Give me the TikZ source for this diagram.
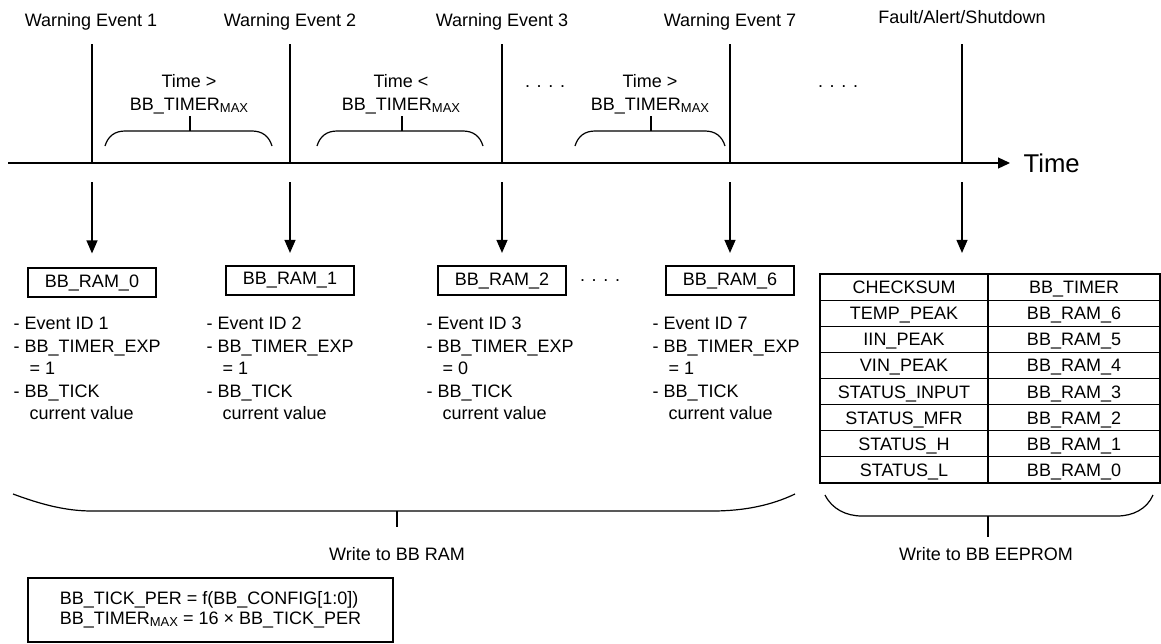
\documentclass[tikz,border=0pt]{standalone}
\usepackage{fontspec}
\setmainfont{Liberation Sans}
\usetikzlibrary{arrows.meta}
\newcommand\mx{\raisebox{-1.7pt}{\fontsize{13}{13}\selectfont MAX}}
\begin{document}
\begin{tikzpicture}[x=1pt,y=-1pt,line width=1.2pt,
  font=\fontsize{18}{22.5}\selectfont,
  lbl/.style={inner sep=0pt, anchor=base},
  tlbl/.style={inner sep=0pt, anchor=north, align=center, font=\fontsize{18}{22.7}\selectfont},
  ramb/.style={draw, minimum width=128pt, minimum height=29pt, inner sep=0pt},
  desc/.style={inner sep=0pt, anchor=north west, align=left, font=\fontsize{18}{22.5}\selectfont},
  arr/.style={-{Triangle[length=13pt,width=11pt]}},
  axarr/.style={-{Triangle[length=12pt,width=11pt]}},
  dotsl/.style={inner sep=0pt, anchor=base},
  cell/.style={inner sep=0pt, anchor=base}]
\useasboundingbox (0,0) rectangle (1161,643);

% event coordinates
\foreach \n/\x in {1/92,2/290,3/502,7/730,f/962}{
  \coordinate (t\n) at (\x,44);
  \coordinate (a\n) at (\x,163);
  \coordinate (b\n) at (\x,182);
}
\coordinate (axs) at (8,163);
\coordinate (axe) at (1010,163);

% top labels
\node[lbl] (w1) at (91,26.5) {Warning Event 1};
\node[lbl] (w2) at (290,26.5) {Warning Event 2};
\node[lbl] (w3) at (502,26.5) {Warning Event 3};
\node[lbl] (w7) at (730,26.5) {Warning Event 7};
\node[lbl] (wf) at (962,23) {Fault/Alert/Shutdown};

% time axis
\draw[axarr] (axs) -- (axe);
\node[inner sep=0pt, anchor=base west, font=\fontsize{25.7}{30}\selectfont] (timelbl) at (1023,172) {Time};

% event lines
\foreach \n in {1,2,3,7,f}{ \draw (t\n) -- (a\n); }

% braces top
\draw (105,146) .. controls (108,136) and (115,131) .. (125,131) -- (252,131) .. controls (262,131) and (269,136) .. (272,146);
\draw (190,131) -- (190,116);
\draw (317,146) .. controls (320,136) and (327,131) .. (337,131) -- (463,131) .. controls (473,131) and (480,136) .. (483,146);
\draw (402,131) -- (402,116);
\draw (575,146) .. controls (578,136) and (585,131) .. (595,131) -- (705,131) .. controls (715,131) and (722,136) .. (725,146);
\draw (651,131) -- (651,116);

\node[tlbl] (c1) at (189,74) {Time >\\BB\_TIMER\mx};
\node[tlbl] (c2) at (401,74) {Time <\\BB\_TIMER\mx};
\node[tlbl] (c3) at (650,74) {Time >\\BB\_TIMER\mx};

\node[dotsl] (d1) at (545,87) {. . . .};
\node[dotsl] (d2) at (838,87) {. . . .};

% RAM boxes
\node[ramb] (ram0) at (92,282.5) {BB\_RAM\_0};
\node[ramb] (ram1) at (290,280.5) {BB\_RAM\_1};
\node[ramb] (ram2) at (502,280.5) {BB\_RAM\_2};
\node[ramb] (ram6) at (730,280.5) {BB\_RAM\_6};
\node[dotsl] (d3) at (600,281) {. . . .};

\draw[arr, shorten >=14pt] (b1) -- (ram0.north);
\draw[arr, shorten >=12.5pt] (b2) -- (ram1.north);
\draw[arr, shorten >=12.5pt] (b3) -- (ram2.north);
\draw[arr, shorten >=12.5pt] (b7) -- (ram6.north);

% descriptions
\node[desc] (de0) at (13,316.7) {- Event ID 1\\- BB\_TIMER\_EXP\\\hspace*{16pt}= 1\\- BB\_TICK\\\hspace*{16pt}current value};
\node[desc] (de1) at (206,316.7) {- Event ID 2\\- BB\_TIMER\_EXP\\\hspace*{16pt}= 1\\- BB\_TICK\\\hspace*{16pt}current value};
\node[desc] (de2) at (426,316.7) {- Event ID 3\\- BB\_TIMER\_EXP\\\hspace*{16pt}= 0\\- BB\_TICK\\\hspace*{16pt}current value};
\node[desc] (de6) at (652,316.7) {- Event ID 7\\- BB\_TIMER\_EXP\\\hspace*{16pt}= 1\\- BB\_TICK\\\hspace*{16pt}current value};

% table
\node[draw, minimum width=340pt, minimum height=209pt, inner sep=0pt] (tbl) at (990,378.5) {};
\draw (988,274) -- (988,483);
\foreach \i in {1,...,7}{ \draw (820,{274+26.125*\i}) -- (1160,{274+26.125*\i}); }
\foreach \a/\b [count=\i] in {CHECKSUM/BB\_TIMER, TEMP\_PEAK/BB\_RAM\_6, IIN\_PEAK/BB\_RAM\_5, VIN\_PEAK/BB\_RAM\_4, STATUS\_INPUT/BB\_RAM\_3, STATUS\_MFR/BB\_RAM\_2, STATUS\_H/BB\_RAM\_1, STATUS\_L/BB\_RAM\_0}{
  \node[cell] (l\i) at (904,{274+26.125*(\i-0.5)+6.45}) {\a};
  \node[cell] (r\i) at (1074,{274+26.125*(\i-0.5)+6.45}) {\b};
}
\draw[arr, shorten >=20.5pt] (bf) -- (bf |- tbl.north);

% bottom braces
\draw (13,494) .. controls (40,504) and (65,511) .. (92,511) -- (712,511) .. controls (745,511) and (772,505) .. (795,494);
\draw (397,511) -- (397,527);
\node[lbl] (wram) at (397,560) {Write to BB RAM};

\draw (825,495) .. controls (832,509) and (846,516) .. (862,516) -- (1117,516) .. controls (1133,516) and (1147,509) .. (1153,495);
\draw (988,516) -- (988,537);
\node[lbl] (weep) at (986,560) {Write to BB EEPROM};

% formula box
\node[draw, minimum width=365pt, minimum height=64pt, inner sep=0pt, align=left, font=\fontsize{18}{20}\selectfont] (form) at (210.5,610) {BB\_TICK\_PER = f(BB\_CONFIG[1:0])\\BB\_TIMER\mx{} = 16 × BB\_TICK\_PER};
\end{tikzpicture}
\end{document}
